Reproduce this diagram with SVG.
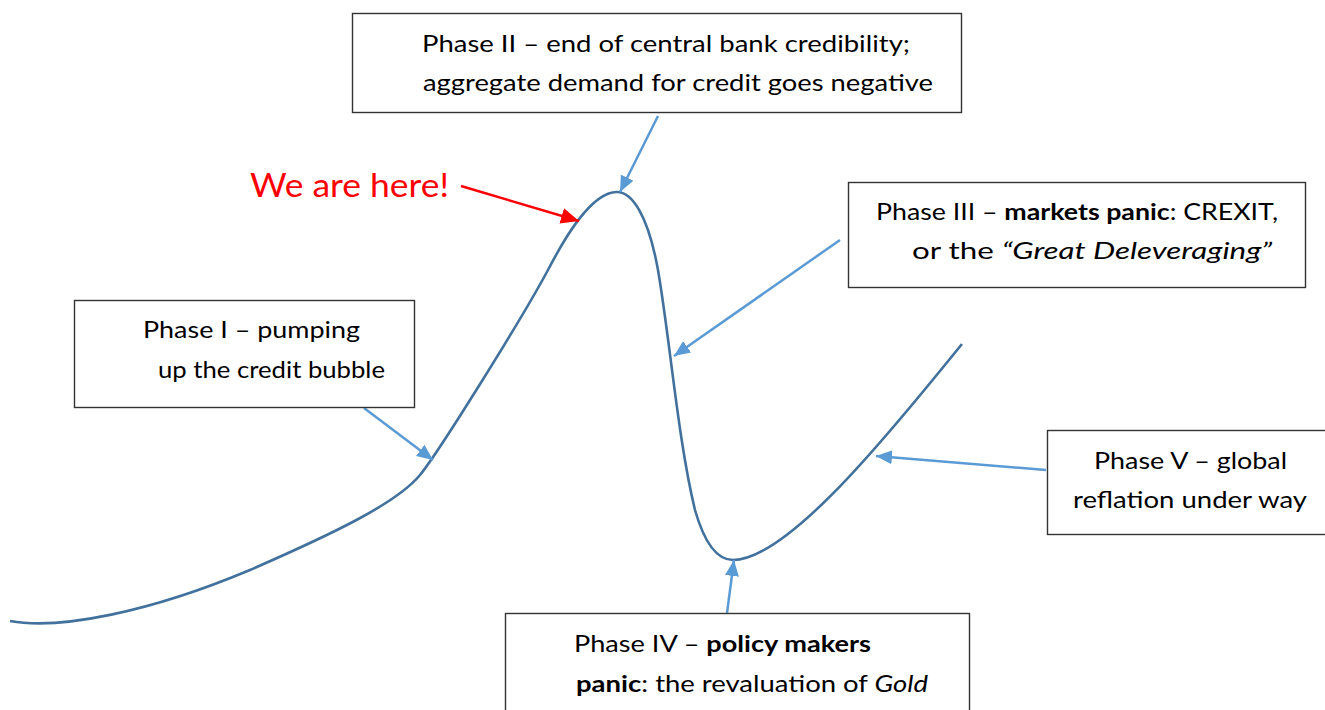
<svg xmlns="http://www.w3.org/2000/svg" width="1325" height="710" viewBox="0 0 1325 710">
  <defs>
    <style>
      .box { fill: #ffffff; stroke: #333333; stroke-width: 1.4; }
      .lbl { font-family: Lato, "Open Sans", sans-serif; font-size: 23px; fill: #000000; }
      .b { font-weight: bold; }
      .i { font-style: italic; }
      .conn { fill: none; stroke: #5B9BD5; stroke-width: 2.5; }
      .red { fill: none; stroke: #FF0000; stroke-width: 2.5; }
      .curve { fill: none; stroke: #41719C; stroke-width: 2.6; }
    </style>
    <marker id="arrBlue" markerUnits="userSpaceOnUse" markerWidth="18" markerHeight="16" refX="16" refY="8" orient="auto">
      <path d="M0,1 L16,8 L0,15 Z" fill="#5B9BD5"/>
    </marker>
    <marker id="arrRed" markerUnits="userSpaceOnUse" markerWidth="20" markerHeight="18" refX="18" refY="9" orient="auto">
      <path d="M0,1 L18,9 L0,17 Z" fill="#FF0000"/>
    </marker>
  </defs>

  <rect width="1325" height="710" fill="#ffffff"/>

  <!-- credit cycle curve -->
  <g id="cycle-curve">
    <path class="curve" d="M10,621 C60,630 150,612 250,570 C330,535 396,504 420,475 C438,453 520,322 548,270 C562,243 590,192 617,192 C632,192 648,215 658,270 C670,340 678,440 695,510 C705,545 718,560 733,560 C790,560 900,420 962,344"/>
  </g>

  <!-- connectors -->
  <g id="connectors">
    <line class="conn" x1="658" y1="116" x2="620" y2="192" marker-end="url(#arrBlue)"/>
    <line class="conn" x1="840" y1="240" x2="674" y2="356" marker-end="url(#arrBlue)"/>
    <line class="conn" x1="364" y1="408" x2="433" y2="460" marker-end="url(#arrBlue)"/>
    <line class="conn" x1="1046" y1="470" x2="876" y2="456" marker-end="url(#arrBlue)"/>
    <line class="conn" x1="727" y1="613" x2="734" y2="560" marker-end="url(#arrBlue)"/>
    <line class="red" x1="461" y1="186" x2="579" y2="221" marker-end="url(#arrRed)"/>
  </g>

  <!-- Phase II -->
  <g id="phase2">
    <rect class="box" x="352.5" y="13.5" width="609" height="99"/>
    <text class="lbl" x="422" y="52" textLength="488" lengthAdjust="spacingAndGlyphs">Phase II – end of central bank credibility;</text>
    <text class="lbl" x="423" y="91" textLength="510" lengthAdjust="spacingAndGlyphs">aggregate demand for credit goes negative</text>
  </g>

  <!-- Phase III -->
  <g id="phase3">
    <rect class="box" x="848.5" y="182.5" width="457" height="105"/>
    <text class="lbl" x="876" y="220" textLength="402" lengthAdjust="spacingAndGlyphs">Phase III – <tspan class="b">markets panic</tspan>: CREXIT,</text>
    <text class="lbl" x="912" y="259" textLength="360" lengthAdjust="spacingAndGlyphs">or the <tspan class="i">“Great Deleveraging”</tspan></text>
  </g>

  <!-- Phase I -->
  <g id="phase1">
    <rect class="box" x="74.5" y="300.5" width="340" height="107"/>
    <text class="lbl" x="143" y="338" textLength="217" lengthAdjust="spacingAndGlyphs">Phase I – pumping</text>
    <text class="lbl" x="158" y="378" textLength="227" lengthAdjust="spacingAndGlyphs">up the credit bubble</text>
  </g>

  <!-- Phase V -->
  <g id="phase5">
    <rect class="box" x="1047.5" y="430.5" width="290" height="104"/>
    <text class="lbl" x="1094" y="469" textLength="193" lengthAdjust="spacingAndGlyphs">Phase V – global</text>
    <text class="lbl" x="1073" y="508" textLength="234" lengthAdjust="spacingAndGlyphs">reflation under way</text>
  </g>

  <!-- Phase IV -->
  <g id="phase4">
    <rect class="box" x="505.5" y="613.5" width="464" height="110"/>
    <text class="lbl" x="574" y="652" textLength="297" lengthAdjust="spacingAndGlyphs">Phase IV – <tspan class="b">policy makers</tspan></text>
    <text class="lbl" x="576" y="692" textLength="352" lengthAdjust="spacingAndGlyphs"><tspan class="b">panic</tspan>: the revaluation of <tspan class="i">Gold</tspan></text>
  </g>

  <!-- current position callout -->
  <g id="we-are-here">
    <text x="250" y="197" textLength="199" lengthAdjust="spacingAndGlyphs" style="font-family: Lato, 'Open Sans', sans-serif; font-size: 33px; fill: #FF0000;">We are here!</text>
  </g>
</svg>
